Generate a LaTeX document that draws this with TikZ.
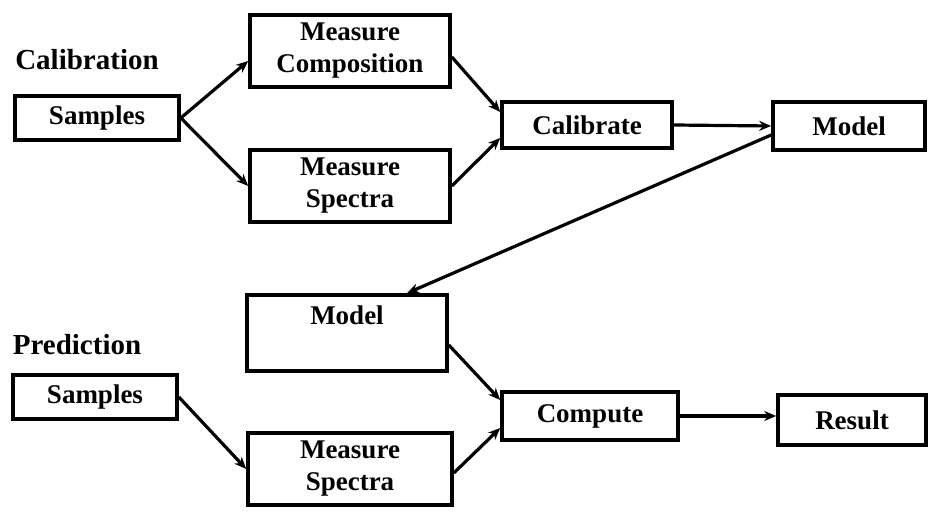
\documentclass[tikz,border=0pt]{standalone}
\usepackage{fontspec}
\setmainfont{Liberation Serif}
\usetikzlibrary{arrows.meta}
\tikzset{
  stage/.style={draw, line width=1.8pt, inner sep=0pt, align=center, font=\fontsize{13.5}{16}\selectfont\bfseries},
  phase/.style={font=\fontsize{14.5}{16}\selectfont\bfseries},
  flow/.style={line width=1.6pt, -{Stealth[length=6pt,width=5pt]}}
}
\begin{document}
\begin{tikzpicture}[x=0.5pt,y=-0.5pt]
    \useasboundingbox (0,0) rectangle (928,512);
    % Calibration
    \node[phase] (calib) at (87,60) {Calibration};
    \node[stage, minimum width=82pt, minimum height=22pt] (sampA) at (97,118) {Samples};
    \node[stage, minimum width=100pt, minimum height=36pt] (compA) at (350,51) {Measure\\Composition};
    \node[stage, minimum width=100pt, minimum height=36pt] (specA) at (350,186) {Measure\\Spectra};
    \node[stage, minimum width=85pt, minimum height=23pt] (calibrate) at (587,125) {Calibrate};
    \node[stage, minimum width=76pt, minimum height=24pt] (modelA) at (849,126) {Model};
    % Prediction
    \node[phase] (pred) at (77,345) {Prediction};
    \node[stage, minimum width=82pt, minimum height=22pt] (sampB) at (95,397) {Samples};
    \node[stage, minimum width=100pt, text height=9pt, text depth=17pt, inner ysep=6pt] (modelB) at (347,333) {Model};
    \node[stage, minimum width=102pt, minimum height=36pt] (specB) at (350,469) {Measure\\Spectra};
    \node[stage, minimum width=88pt, minimum height=24pt] (compute) at (590,416) {Compute};
    \node[stage, minimum width=74pt, minimum height=25pt] (result) at (852,420) {Result};
    % Connectors
    \draw[flow] (sampA.east) -- ([yshift=-5pt]compA.west);
    \draw[flow] (sampA.east) -- (specA.west);
    \draw[flow] ([yshift=-3pt]compA.east) -- ([yshift=6.5pt]calibrate.west);
    \draw[flow] (specA.east) -- ([yshift=-6.5pt]calibrate.west);
    \draw[flow] (calibrate.east) -- (modelA.west);
    \draw[flow] ([yshift=-4.5pt]modelA.west) -- ([xshift=30pt]modelB.north);
    \draw[flow] (sampB.east) -- (specB.west);
    \draw[flow] ([yshift=-6pt]modelB.east) -- ([yshift=8pt]compute.west);
    \draw[flow] ([yshift=-2pt]specB.east) -- ([yshift=-6pt]compute.west);
    \draw[flow] (compute.east) -- (compute.east -| result.west);
\end{tikzpicture}
\end{document}
